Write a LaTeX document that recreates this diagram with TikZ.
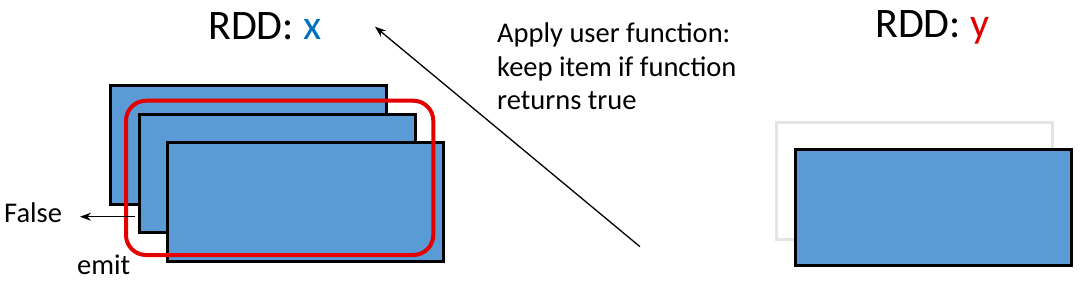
\documentclass[tikz,border=0pt]{standalone}
\usepackage{fontspec}
\setmainfont{Carlito}
\usetikzlibrary{arrows.meta}
\definecolor{partblue}{HTML}{5B9BD5}
\definecolor{xblue}{HTML}{0070C0}
\definecolor{yred}{HTML}{E00000}
\definecolor{ghost}{HTML}{E4E4E4}
\begin{document}
\begin{tikzpicture}[x=1pt,y=-1pt,
  part/.style={draw=black,fill=partblue,line width=3pt},
  ghostpart/.style={draw=ghost,line width=3pt},
  title/.style={font=\fontsize{42}{46}\selectfont,inner sep=0pt,anchor=base west},
  lbl/.style={font=\fontsize{28.5}{33.7}\selectfont,inner sep=0pt,anchor=base west,align=left},
  arr/.style={-{Stealth[length=11pt,width=8pt]},line width=1.3pt}]
\useasboundingbox (0,0) rectangle (1082,297);
% left RDD
\path[part] (110,85) rectangle (386.7,204.3);
\path[part] (139.3,114.3) rectangle (415,232.7);
\path[part] (167.7,142.7) rectangle (443.3,261);
\draw[red!90!black,line width=4pt,rounded corners=20pt] (126,100.7) rectangle (433.3,255);
\node[title] (rx) at (208,39.3) {RDD: \textcolor{xblue}{x}};
% False arrow
\coordinate (fs) at (135,216.7);
\coordinate (fe) at (80,216.7);
\node[lbl,anchor=base west] (false) at (4,222.7) {False};
\draw[arr,line width=1pt] (fs) -- (fe);
\node[lbl] (emit) at (77,274) {emit};
% main arrow
\coordinate (tail) at (640,246.7);
\coordinate (tip) at (375,26.7);
\draw[arr] (tail) -- (tip);
\node[lbl,anchor=north west] (apply) at (497,22.5) {Apply user function:\\keep item if function\\returns true};
% right RDD
\path[ghostpart] (776.7,122.3) rectangle (1052.3,239);
\path[part] (795.7,149) rectangle (1071,265.7);
\node[title] (ry) at (875,37.5) {RDD: \textcolor{yred}{y}};
\end{tikzpicture}
\end{document}
